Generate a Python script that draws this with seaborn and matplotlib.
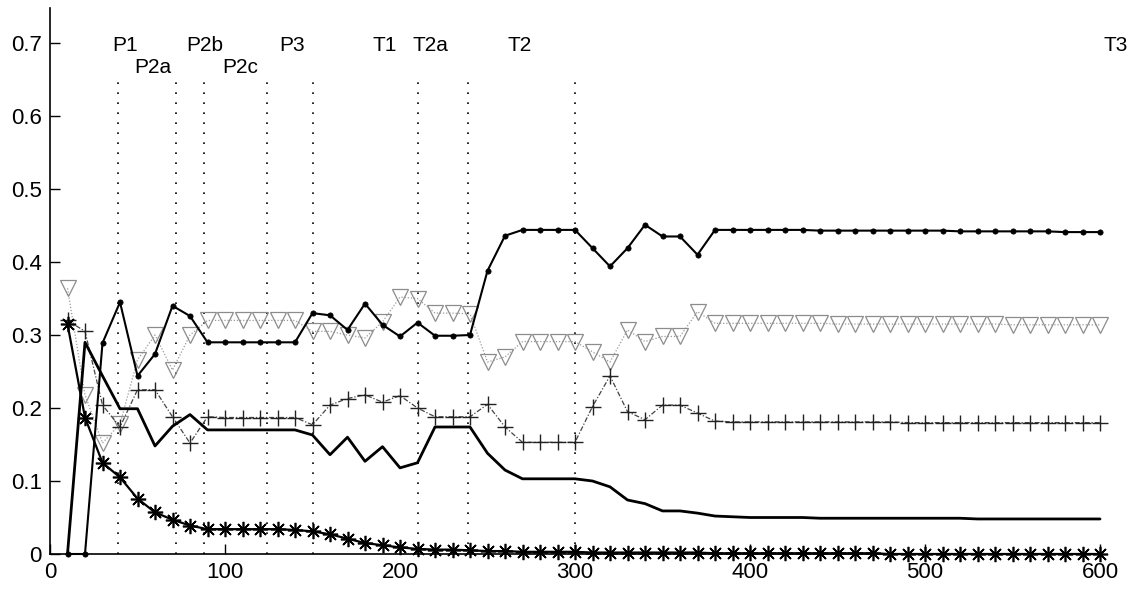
import matplotlib
matplotlib.use("Agg")
import matplotlib.pyplot as plt
import seaborn as sns

# ---------------- data ----------------
x = list(range(10, 610, 10))

dots = [0.000, 0.000, 0.289, 0.345, 0.244, 0.274, 0.340, 0.326, 0.290, 0.290,
        0.290, 0.290, 0.290, 0.290, 0.330, 0.327, 0.307, 0.343, 0.314, 0.298,
        0.317, 0.299, 0.299, 0.300, 0.388, 0.436, 0.444, 0.444, 0.444, 0.444,
        0.419, 0.394, 0.419, 0.451, 0.435, 0.435, 0.410, 0.444, 0.444, 0.444,
        0.444, 0.444, 0.444, 0.443, 0.443, 0.443, 0.443, 0.443, 0.443, 0.443,
        0.443, 0.442, 0.442, 0.442, 0.442, 0.442, 0.442, 0.441, 0.441, 0.441]

triangles = [0.364, 0.218, 0.152, 0.178, 0.266, 0.300, 0.252, 0.300, 0.320, 0.320,
             0.320, 0.320, 0.320, 0.320, 0.305, 0.305, 0.300, 0.296, 0.318, 0.352,
             0.350, 0.330, 0.330, 0.329, 0.263, 0.270, 0.291, 0.291, 0.291, 0.291,
             0.277, 0.263, 0.307, 0.291, 0.298, 0.298, 0.332, 0.316, 0.316, 0.316,
             0.316, 0.316, 0.316, 0.316, 0.315, 0.315, 0.315, 0.315, 0.315, 0.315,
             0.315, 0.315, 0.315, 0.315, 0.314, 0.314, 0.314, 0.314, 0.314, 0.314]

pluses = [0.320, 0.305, 0.204, 0.174, 0.225, 0.225, 0.188, 0.152, 0.188, 0.187,
          0.187, 0.187, 0.187, 0.187, 0.177, 0.204, 0.213, 0.218, 0.208, 0.217,
          0.200, 0.188, 0.188, 0.188, 0.205, 0.174, 0.153, 0.153, 0.153, 0.153,
          0.202, 0.244, 0.195, 0.184, 0.204, 0.204, 0.193, 0.182, 0.181, 0.181,
          0.181, 0.181, 0.181, 0.181, 0.181, 0.181, 0.181, 0.181, 0.180, 0.180,
          0.180, 0.180, 0.180, 0.180, 0.180, 0.180, 0.180, 0.180, 0.180, 0.180]

solid = [0.000, 0.290, 0.244, 0.199, 0.199, 0.148, 0.175, 0.191, 0.170, 0.170,
         0.170, 0.170, 0.170, 0.170, 0.163, 0.136, 0.160, 0.127, 0.147, 0.118,
         0.125, 0.174, 0.174, 0.174, 0.138, 0.115, 0.103, 0.103, 0.103, 0.103,
         0.100, 0.092, 0.074, 0.069, 0.059, 0.059, 0.056, 0.052, 0.051, 0.050,
         0.050, 0.050, 0.050, 0.049, 0.049, 0.049, 0.049, 0.049, 0.049, 0.049,
         0.049, 0.049, 0.048, 0.048, 0.048, 0.048, 0.048, 0.048, 0.048, 0.048]

stars = [0.315, 0.187, 0.125, 0.105, 0.076, 0.057, 0.047, 0.039, 0.034, 0.034,
         0.034, 0.034, 0.034, 0.033, 0.031, 0.027, 0.021, 0.015, 0.012, 0.009,
         0.007, 0.006, 0.006, 0.005, 0.004, 0.004, 0.003, 0.003, 0.003, 0.003,
         0.002, 0.002, 0.002, 0.002, 0.002, 0.002, 0.002, 0.001, 0.001, 0.001,
         0.001, 0.001, 0.001, 0.001, 0.001, 0.001, 0.001, 0.000, 0.000, 0.000,
         0.000, 0.000, 0.000, 0.000, 0.000, 0.000, 0.000, 0.000, 0.000, 0.000]

event_x = [39, 72, 88, 124, 150, 210, 239, 300]
label_text = ["P1", "P2a", "P2b", "P2c", "P3", "T1", "T2a", "T2", "T3"]
label_x = [35.4, 48, 78, 98.7, 130.9, 184, 207.4, 261.7, 602]
label_y = [0.697, 0.666, 0.697, 0.666, 0.697, 0.697, 0.697, 0.697, 0.697]

x_ticks = [0, 100, 200, 300, 400, 500, 600]
y_ticks = [0, 0.1, 0.2, 0.3, 0.4, 0.5, 0.6, 0.7]
y_tick_labels = ["0", "0.1", "0.2", "0.3", "0.4", "0.5", "0.6", "0.7"]

# ---------------- style ----------------
sns.set_style("ticks")
plt.rcParams["font.family"] = ["Liberation Sans", "DejaVu Sans"]

fig = plt.figure(figsize=(11.44, 5.90), dpi=100)
ax = fig.add_axes([50 / 1144, 36 / 590, 1050 / 1144, 546 / 590])

# event lines
ax.vlines(event_x, 0, 0.65, colors="black", linestyles=(0, (1, 5)), lw=1.2, zorder=1)

# series
sns.lineplot(x=x, y=triangles, ax=ax, color="#9a9a9a", lw=0.9, linestyle=(0, (1, 1.5)),
             marker="v", markersize=11, markerfacecolor="none",
             markeredgecolor="#8c8c8c", markeredgewidth=0.9, clip_on=False, zorder=2)
sns.lineplot(x=x, y=pluses, ax=ax, color="#444444", lw=0.9, linestyle=(0, (4, 1.5, 1, 1.5)),
             marker="+", markersize=11, markeredgecolor="#222222",
             markeredgewidth=1.0, clip_on=False, zorder=3)
sns.lineplot(x=x, y=solid, ax=ax, color="black", lw=2.0, clip_on=False, zorder=4)
sns.lineplot(x=x, y=dots, ax=ax, color="black", lw=1.5, marker="o", markersize=3.8,
             markerfacecolor="black", markeredgecolor="black", markeredgewidth=0.5,
             clip_on=False, zorder=5)
sns.lineplot(x=x, y=stars, ax=ax, color="black", lw=1.6, marker=(8, 2, 0), markersize=11,
             markeredgecolor="black", markeredgewidth=1.2, clip_on=False, zorder=6)

# labels
for t, lx, ly in zip(label_text, label_x, label_y):
    ax.text(lx, ly, t, ha="left", va="center", fontsize=15, color="black", clip_on=False)

ax.set_xlim(0, 600)
ax.set_ylim(0, 0.748)
ax.set_xticks(x_ticks)
ax.set_xticklabels([str(v) for v in x_ticks])
ax.set_yticks(y_ticks)
ax.set_yticklabels(y_tick_labels)
ax.set_xlabel("")
ax.set_ylabel("")
ax.tick_params(direction="in", length=7, width=1, labelsize=16, colors="black", pad=6)
for s in ["top", "right"]:
    ax.spines[s].set_visible(False)
for s in ["left", "bottom"]:
    ax.spines[s].set_color("black")
    ax.spines[s].set_linewidth(1.2)
ax.grid(False)

fig.savefig("out.png", dpi=100)
